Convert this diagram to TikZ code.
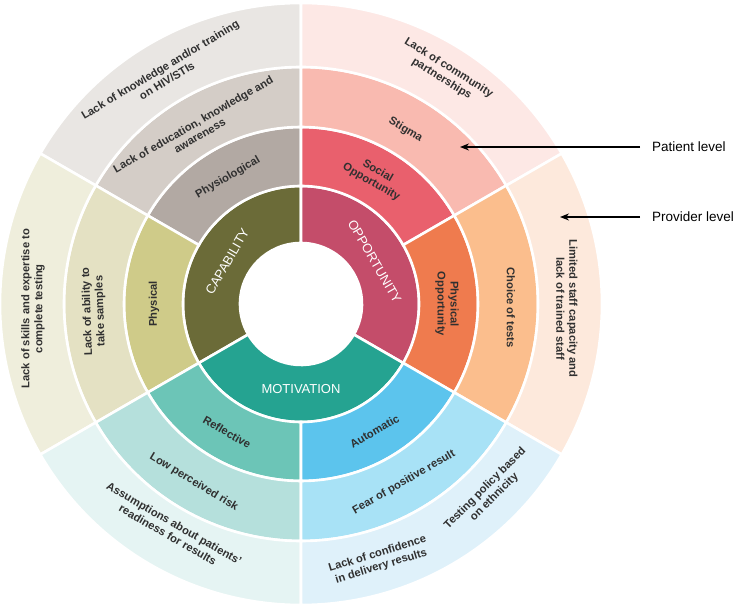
\documentclass[tikz,border=0pt]{standalone}
\usepackage{fontspec}
\setmainfont{Liberation Sans}
\usetikzlibrary{arrows.meta}
\usepackage{xcolor}
\definecolor{capring}{HTML}{6B6B38}
\definecolor{oppring}{HTML}{C44D6A}
\definecolor{motring}{HTML}{25A391}
\definecolor{physiofill}{HTML}{B2A9A3}
\definecolor{physfill}{HTML}{CFCB89}
\definecolor{socialfill}{HTML}{E9606D}
\definecolor{physoppfill}{HTML}{EF7B4E}
\definecolor{reflfill}{HTML}{6CC5B7}
\definecolor{autofill}{HTML}{5CC4ED}
\definecolor{educfill}{HTML}{D4CDC7}
\definecolor{abilityfill}{HTML}{E4E1C3}
\definecolor{stigmafill}{HTML}{F9BAB0}
\definecolor{choicefill}{HTML}{FBBE8D}
\definecolor{riskfill}{HTML}{B5E0DC}
\definecolor{fearfill}{HTML}{A8E2F6}
\definecolor{knowlfill}{HTML}{E9E6E3}
\definecolor{skillsfill}{HTML}{EFEEDC}
\definecolor{commfill}{HTML}{FDE8E5}
\definecolor{stafffill}{HTML}{FDE9DC}
\definecolor{assumpfill}{HTML}{E5F4F3}
\definecolor{confidfill}{HTML}{DFF1FA}
\definecolor{txtgray}{HTML}{303030}

\begin{document}
\begin{tikzpicture}[
    x=1pt, y=1pt,
    seg/.style={draw=white, line width=2.6pt},
    core/.style={font=\fontsize{13}{15}\selectfont, text=white},
    lbl/.style={font=\bfseries\fontsize{11.2}{13}\selectfont, text=txtgray, align=center},
    level/.style={font=\fontsize{13.5}{16}\selectfont, anchor=west, inner xsep=12pt},
    arr/.style={-{Stealth[length=9pt, width=7pt]}, line width=1.4pt},
]
\useasboundingbox (-301,-305) rectangle (438,304);

% Wheel segments: start/end angle, inner/outer radius, colour
\foreach \a/\b/\ri/\ro/\c in {
    90/210/61/118/capring, -30/90/61/118/oppring, 210/330/61/118/motring,
    90/150/118/177/physiofill, 150/210/118/177/physfill,
    30/90/118/177/socialfill, -30/30/118/177/physoppfill,
    210/270/118/177/reflfill, 270/330/118/177/autofill,
    90/150/177/237/educfill, 150/210/177/237/abilityfill,
    30/90/177/237/stigmafill, -30/30/177/237/choicefill,
    210/270/177/237/riskfill, 270/330/177/237/fearfill,
    90/150/237/301/knowlfill, 150/210/237/301/skillsfill,
    30/90/237/301/commfill, -30/30/237/301/stafffill,
    210/270/237/301/assumpfill, 270/330/237/301/confidfill} {
    \filldraw[seg, fill=\c] (\a:\ri pt) arc[start angle=\a, end angle=\b, radius=\ri pt]
        -- (\b:\ro pt) arc[start angle=\b, end angle=\a, radius=\ro pt] -- cycle;
}

% COM-B core
\node[core, rotate=60] (cap) at (150:85pt) {CAPABILITY};
\node[core, rotate=-60] (opp) at (30:85pt) {OPPORTUNITY};
\node[core] (mot) at (270:85pt) {MOTIVATION};

% Sub-components
\node[lbl, rotate=30] (physio) at (120:146pt) {Physiological};
\node[lbl, rotate=90] (physical) at (180:147pt) {Physical};
\node[lbl, rotate=-30] (social) at (60:147pt) {Social\\Opportunity};
\node[lbl, rotate=-90] (physopp) at (0:146pt) {Physical\\Opportunity};
\node[lbl, rotate=-30] (reflective) at (240:148pt) {Reflective};
\node[lbl, rotate=30] (automatic) at (300:147pt) {Automatic};

% Patient level barriers
\node[lbl, rotate=30] (educ) at (121:203pt) {Lack of education, knowledge and\\awareness};
\node[lbl, rotate=92] (ability) at (182:207pt) {Lack of ability to\\take samples};
\node[lbl, rotate=-31] (stigma) at (59:203pt) {Stigma};
\node[lbl, rotate=-90] (choice) at (-1:210pt) {Choice of tests};
\node[lbl, rotate=-31] (lowrisk) at (239:208pt) {Low perceived risk};
\node[lbl, rotate=30] (fear) at (300:206pt) {Fear of positive result};

% Provider level barriers
\node[lbl, rotate=31] (knowl) at (121:267pt) {Lack of knowledge and/or training\\on HIV/STIs};
\node[lbl, rotate=90] (skills) at (181:268pt) {Lack of skills and expertise to\\complete testing};
\node[lbl, rotate=-32] (comm) at (58:272pt) {Lack of community\\partnerships};
\node[lbl, rotate=-90] (staff) at (-1:266pt) {Limited staff capacity and\\lack of trained staff};
\node[lbl, rotate=-30] (assump) at (240:260pt) {Assumptions about patients'\\readiness for results};
\node[lbl, rotate=17] (confid) at (287:268pt) {Lack of confidence\\in delivery results};
\node[lbl, rotate=45] (testing) at (315:267pt) {Testing policy based\\on ethnicity};

% Level pointers
\node[level] (patient) at (339,157) {Patient level};
\node[level] (provider) at (339,87) {Provider level};
\coordinate (stigmapt) at (159,157);
\coordinate (staffpt) at (259,87);
\draw[arr] (patient.west) -- (stigmapt);
\draw[arr] (provider.west) -- (staffpt);

\end{tikzpicture}
\end{document}
